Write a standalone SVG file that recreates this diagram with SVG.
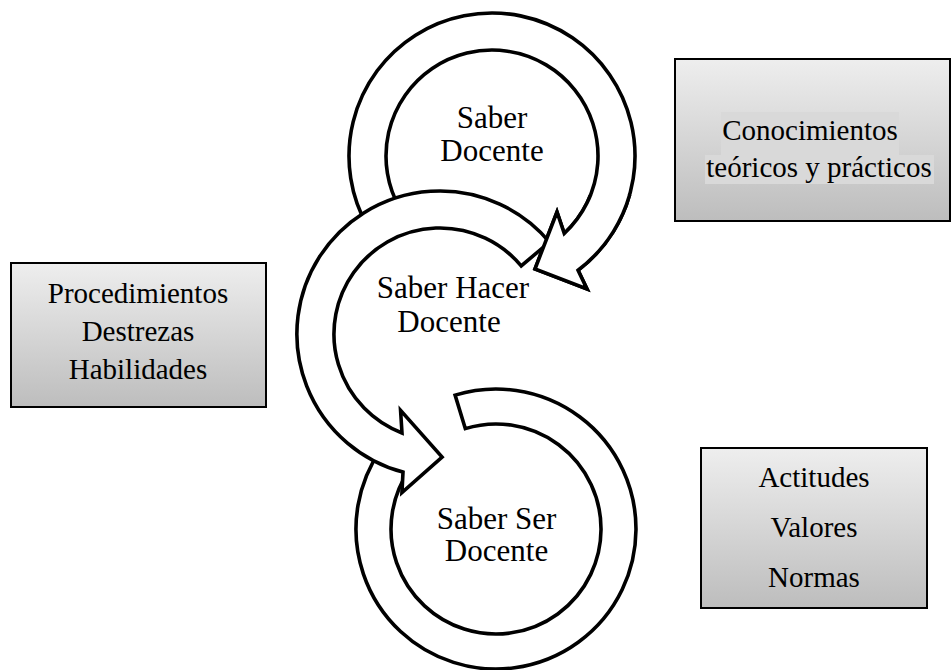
<svg xmlns="http://www.w3.org/2000/svg" xmlns:xlink="http://www.w3.org/1999/xlink" width="951" height="670" viewBox="0 0 951 670">
<style>
.ring{fill:#fff;stroke:#000;stroke-width:3.6;stroke-linejoin:miter}
.box{fill:url(#g);stroke:#000;stroke-width:2}
.t{font-family:"Liberation Serif","Times New Roman",serif;fill:#000;text-anchor:middle}
.rt{font-size:31px}
.bt{font-size:29px}
.hl{fill:#d9d9d9}
</style>
<defs>
<linearGradient id="g" x1="0" y1="0" x2="0" y2="1">
<stop offset="0" stop-color="#eeeeee"/>
<stop offset="1" stop-color="#bdbdbd"/>
</linearGradient>
<clipPath id="headClip"><rect x="500" y="195" width="150" height="120"/></clipPath>
</defs>
<rect width="951" height="670" fill="#fff"/>
<g id="connectors">
<path id="topRing" class="ring" d="M368.16,227.5 A143,143 0 1 1 578.06,270.2 L587,289 L535,269 L557,212 L564.29,233.53 A106,106 0 1 0 400.2,209 Z"/>
<path id="bottomRing" class="ring" d="M455.1,395.1 A140,140 0 1 1 381.3,448.7 L410,468.8 A105,105 0 1 0 465.3,428.6 Z"/>
<path id="middleRing" class="ring" d="M549.5,242.1 A143,143 0 1 0 403,472.1 L401.95,492.5 L442.1,457 L400.56,410.4 L402,432.96 A106,106 0 1 1 521.2,265.9 Z"/>
<use xlink:href="#topRing" href="#topRing" clip-path="url(#headClip)"/>
</g>
<g id="saber-docente">
<text class="t rt" x="492" y="128">Saber</text>
<text class="t rt" x="492" y="160.5">Docente</text>
</g>
<g id="saber-hacer-docente">
<text class="t rt" x="453" y="298">Saber Hacer</text>
<text class="t rt" x="449" y="332">Docente</text>
</g>
<g id="saber-ser-docente">
<text class="t rt" x="496.5" y="529">Saber Ser</text>
<text class="t rt" x="496.5" y="561">Docente</text>
</g>
<g id="conocimientos">
<rect class="box" x="675" y="59" width="275" height="162"/>
<rect class="hl" x="721" y="112" width="178" height="43"/>
<rect class="hl" x="705" y="155" width="229" height="29"/>
<text class="t bt" x="810" y="140">Conocimientos</text>
<text class="t bt" x="819" y="177">teóricos y prácticos</text>
</g>
<g id="procedimientos">
<rect class="box" x="11" y="263" width="255" height="144"/>
<text class="t bt" x="138" y="303">Procedimientos</text>
<text class="t bt" x="138" y="341">Destrezas</text>
<text class="t bt" x="138" y="378.5">Habilidades</text>
</g>
<g id="actitudes">
<rect class="box" x="701" y="448" width="226" height="160"/>
<text class="t bt" x="814" y="487">Actitudes</text>
<text class="t bt" x="814" y="537">Valores</text>
<text class="t bt" x="814" y="587">Normas</text>
</g>
</svg>
